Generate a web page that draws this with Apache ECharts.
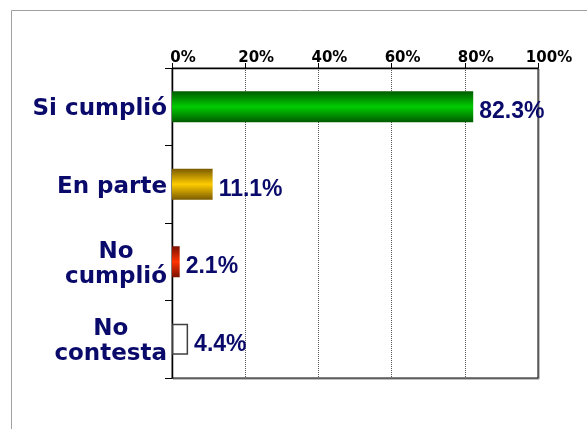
<!DOCTYPE html>
<html>
<head>
<meta charset="utf-8">
<script src="https://cdn.jsdelivr.net/npm/echarts@6/dist/echarts.min.js"></script>
<style>
  html, body { margin: 0; padding: 0; background: #fff; }
  #box { width: 587px; height: 429px; }
</style>
</head>
<body>
<div id="box"></div>
<script>
// categorías y valores (%)
var categories = ['Si cumplió', 'En parte', 'No\ncumplió', 'No\ncontesta'];
var values = [82.3, 11.1, 2.1, 4.4];
// colores de cada barra: [borde oscuro, centro claro]
var barColors = [
    ['#005a00', '#00cc00'],
    ['#7a5a00', '#ffcc00'],
    ['#7a1000', '#ff3300'],
    null // no contesta: barra blanca
];
var tickMax = 100;
var tickStep = 20;

var navy = '#0a0a6b';

// degradado vertical (oscuro arriba y abajo)
function grad(c) {
    return new echarts.graphic.LinearGradient(0, 0, 0, 1, [
        { offset: 0, color: c[0] },
        { offset: 0.5, color: c[1] },
        { offset: 1, color: c[0] }
    ]);
}

var seriesData = values.map(function (v, i) {
    var c = barColors[i];
    if (c) {
        return { value: v, itemStyle: { color: grad(c) } };
    }
    return { value: v, itemStyle: { color: '#fff', borderColor: '#404040', borderWidth: 1.5 } };
});

var myChart = echarts.init(document.getElementById('box'));

var option = {
    animation: false,
    graphic: [
        {
            type: 'rect',
            shape: { x: 11.5, y: 10.5, width: 620, height: 500 },
            style: { fill: 'none', stroke: '#a0a0a0', lineWidth: 1 }
        }
    ],
    grid: {
        left: 172, right: 49, top: 68, bottom: 51,
        show: true,
        borderColor: '#000',
        borderWidth: 1,
        shadowColor: 'rgba(0,0,0,0.5)',
        shadowOffsetX: 1,
        shadowOffsetY: 1,
        shadowBlur: 0
    },
    xAxis: {
        type: 'value',
        position: 'top',
        min: 0,
        max: tickMax,
        interval: tickStep,
        axisLine: { show: true, lineStyle: { color: '#000', width: 1 } },
        axisTick: { show: true, length: 5, lineStyle: { color: '#000' } },
        splitLine: { show: true, lineStyle: { color: '#555', type: [1, 1], width: 1 } },
        axisLabel: {
            formatter: '{value}%',
            color: '#000',
            fontWeight: 'bold',
            fontSize: 15,
            fontFamily: 'DejaVu Sans',
            margin: 2,
            padding: [0, 0, 0, 22]
        }
    },
    yAxis: {
        type: 'category',
        inverse: true,
        data: categories,
        axisLine: { show: true, lineStyle: { color: '#000', width: 1 } },
        axisTick: { show: true, length: 7, lineStyle: { color: '#000' } },
        axisLabel: {
            margin: 5,
            padding: [5, 0, 0, 0],
            formatter: function (v) {
                return v.split('\n').map(function (s) { return '{a|' + s + '}'; }).join('\n');
            },
            rich: {
                a: {
                    align: 'center',
                    color: navy,
                    fontWeight: 'bold',
                    fontSize: 23,
                    fontFamily: 'DejaVu Sans',
                    lineHeight: 25
                }
            }
        }
    },
    series: [
        {
            type: 'bar',
            data: seriesData,
            barWidth: 31,
            label: {
                show: true,
                position: 'right',
                distance: 6,
                offset: [0, 5],
                formatter: function (p) { return p.value.toFixed(1) + '%'; },
                color: navy,
                fontWeight: 'bold',
                fontSize: 23,
                fontFamily: 'Liberation Sans'
            }
        }
    ]
};

myChart.setOption(option);
</script>
</body>
</html>
